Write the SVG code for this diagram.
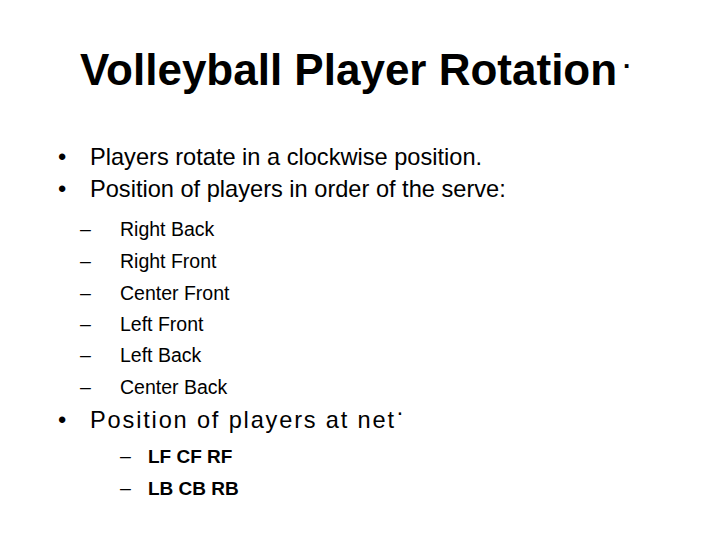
<svg xmlns="http://www.w3.org/2000/svg" width="720" height="540" viewBox="0 0 720 540">
<style>
text{font-family:"Liberation Sans",Arial,sans-serif;fill:#000}
.t{font-size:44px;font-weight:bold}
.b{font-size:23.6px}
.s{font-size:19.5px}
.sb{font-size:19px;font-weight:bold}
</style>
<rect width="720" height="540" fill="#fff"/>
<text class="t" x="80" y="85">Volleyball Player Rotation<tspan dx="6" dy="-10" font-size="26">·</tspan></text>
<text class="b" x="58" y="165">•</text><text class="b" x="90" y="165">Players rotate in a clockwise position.</text>
<text class="b" x="58" y="197">•</text><text class="b" x="90" y="197">Position of players in order of the serve:</text>
<text class="s" x="80" y="236">–</text><text class="s" x="120" y="236">Right Back</text>
<text class="s" x="80" y="268">–</text><text class="s" x="120" y="268">Right Front</text>
<text class="s" x="80" y="300">–</text><text class="s" x="120" y="300">Center Front</text>
<text class="s" x="80" y="331">–</text><text class="s" x="120" y="331">Left Front</text>
<text class="s" x="80" y="362">–</text><text class="s" x="120" y="362">Left Back</text>
<text class="s" x="80" y="394">–</text><text class="s" x="120" y="394">Center Back</text>
<text class="b" x="58" y="428">•</text><text class="b" x="90" y="428" textLength="304" lengthAdjust="spacing">Position of players at net</text>
<text class="b" x="396" y="420" font-size="16">·</text>
<text class="s" x="120" y="463">–</text><text class="sb" x="148" y="463">LF CF RF</text>
<text class="s" x="120" y="495">–</text><text class="sb" x="148" y="495">LB CB RB</text>
</svg>
